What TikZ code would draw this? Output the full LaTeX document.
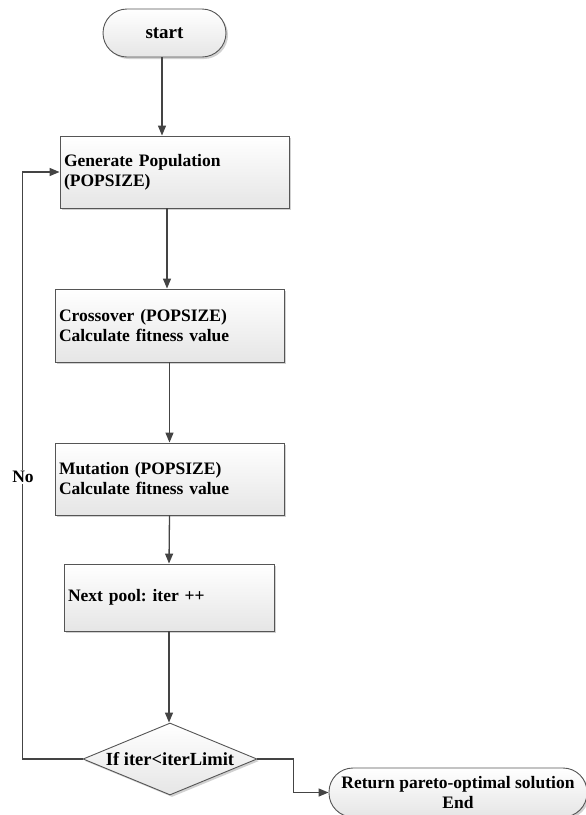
\documentclass[tikz,border=0pt]{standalone}
\usepackage{fontspec}
\setmainfont{Liberation Serif}
\frenchspacing
\usetikzlibrary{arrows.meta,shapes.geometric,shadows}
\definecolor{edge}{HTML}{555555}
\definecolor{wire}{HTML}{444444}
\tikzset{
  boxbase/.style={draw=edge, line width=0.9pt, top color=white, bottom color=black!10,
    drop shadow={shadow xshift=2pt, shadow yshift=-2pt, fill=black!18, opacity=1},
    font=\fontsize{17.5}{20}\selectfont\bfseries, text=black},
  procbox/.style={boxbase, rectangle, inner xsep=4pt, inner ysep=0pt, align=left},
  termbox/.style={boxbase, rectangle, rounded corners=24pt, align=center, inner sep=0pt},
  decision/.style={boxbase, diamond, inner sep=0pt, minimum width=174pt, minimum height=72pt},
  arr/.style={draw=wire, line width=1.3pt, -{Triangle[length=10pt,width=8pt]}},
  tag/.style={font=\fontsize{17.5}{20}\selectfont\bfseries, fill=white, inner sep=1pt}
}
\begin{document}
\begin{tikzpicture}[x=1pt,y=-1pt]
  \useasboundingbox (0,0) rectangle (586,815);

  % flowchart nodes
  \node[termbox, minimum width=123pt, minimum height=48pt, font=\fontsize{19}{20}\selectfont\bfseries] (start) at (164.5,33) {start};
  \node[procbox, minimum width=229pt, minimum height=72pt, text width=221pt] (gen) at (174.5,172)
    {Generate Population\\(POPSIZE)};
  \node[procbox, minimum width=229pt, minimum height=73pt, text width=221pt] (cross) at (169.5,325.5)
    {Crossover (POPSIZE)\\Calculate fitness value};
  \node[procbox, minimum width=229pt, minimum height=72pt, text width=221pt] (mut) at (169.5,479)
    {Mutation (POPSIZE)\\Calculate fitness value};
  \node[procbox, minimum width=210pt, minimum height=67pt, text width=202pt] (next) at (169,597.5)
    {Next pool: iter ++};
  \node[decision, label={[font=\fontsize{18.5}{20}\selectfont\bfseries]center:If iter<iterLimit}] (dec) at (170,759) {};
  \node[termbox, minimum width=258pt, minimum height=49pt] (end) at (458,792.5)
    {Return pareto-optimal solution\\End};

  % connectors
  \draw[arr] ([xshift=-2.5pt]start.south) -- ([xshift=-12.5pt]gen.north);
  \draw[arr] ([xshift=-7.5pt]gen.south) -- ([xshift=-2.5pt]cross.north);
  \draw[arr] (cross.south) -- (mut.north);
  \draw[arr] (mut.south) -- (next.north);
  \draw[arr] (next.south) -- (next.south |- dec.north);
  \draw[arr] (dec.west) -- ++(-60,0) coordinate (loopcorner) |- (gen.west);
  \draw[arr] (dec.east) -- ++(36,0) |- (end.west);

  % loop label
  \node[tag] (no) at (23,477) {No};
\end{tikzpicture}
\end{document}
